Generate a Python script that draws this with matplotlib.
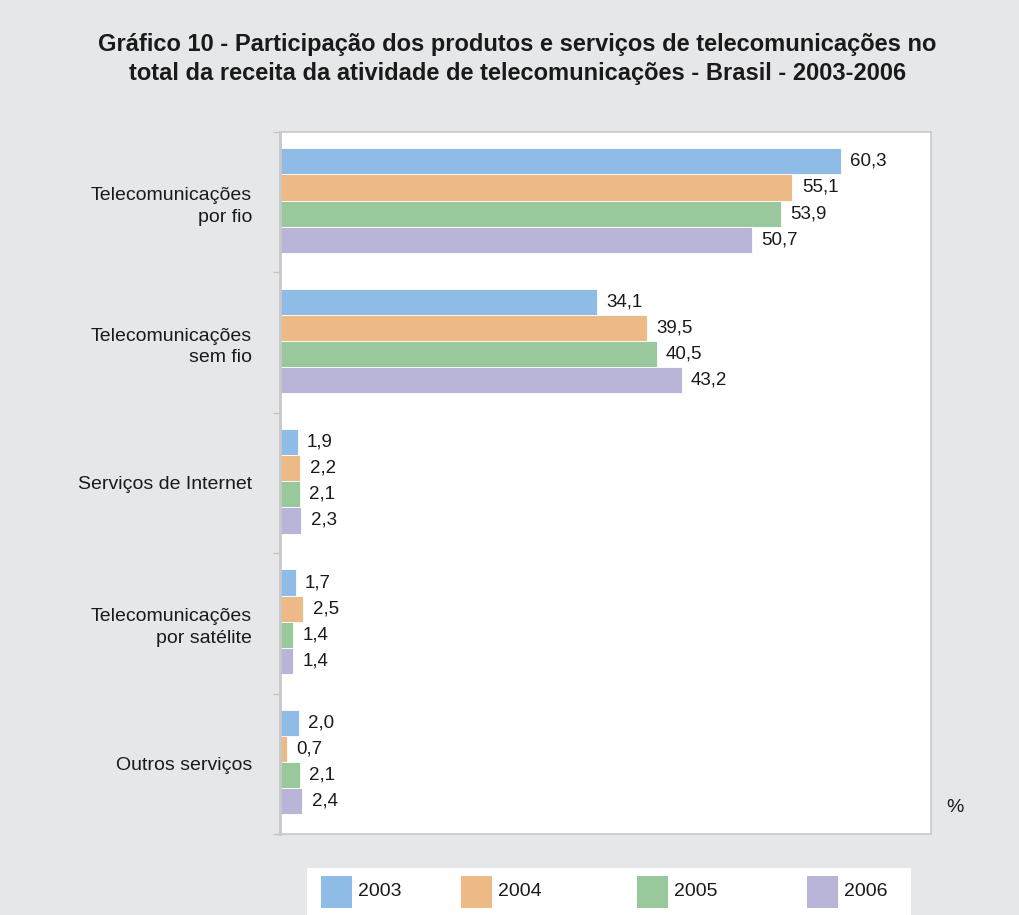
import matplotlib
matplotlib.use("Agg")
import matplotlib.pyplot as plt
from matplotlib.patches import Rectangle
import numpy as np

plt.rcParams['font.family'] = ['Liberation Sans', 'DejaVu Sans']

categories = ["Telecomunicações\npor fio", "Telecomunicações\nsem fio", "Serviços de Internet",
              "Telecomunicações\npor satélite", "Outros serviços"]
years = ["2003", "2004", "2005", "2006"]
v2003 = [60.3, 34.1, 1.9, 1.7, 2.0]
v2004 = [55.1, 39.5, 2.2, 2.5, 0.7]
v2005 = [53.9, 40.5, 2.1, 1.4, 2.1]
v2006 = [50.7, 43.2, 2.3, 1.4, 2.4]
series = [v2003, v2004, v2005, v2006]
colors = ["#8fbce6", "#ecb987", "#99c89d", "#b9b5d9"]

bg = "#e6e7e9"
fig = plt.figure(figsize=(10.19, 9.15), dpi=100, facecolor=bg)
ax = fig.add_axes([280/1019, 1-834/915, 651/1019, (834-132)/915])
ax.set_facecolor("white")

y = np.arange(len(categories))
h = 0.186
for i, (vals, c) in enumerate(zip(series, colors)):
    pos = y + (i - 1.5) * h - 0.012
    ax.barh(pos, vals, height=h, color=c, edgecolor="white", linewidth=0.6)
    for p, v in zip(pos, vals):
        ax.text(v + 1.0, p, f"{v:.1f}".replace(".", ","), va="center", ha="left",
                fontsize=13.5, color="#1a1a1a")

ax.set_xlim(0, 70)
ax.set_ylim(len(categories) - 0.5, -0.5)
ax.set_yticks(y)
ax.set_yticklabels(categories, fontsize=14, ha="right", color="#1a1a1a", linespacing=1.35)
ax.set_yticks(np.arange(-0.5, len(categories)), minor=True)
ax.tick_params(axis="y", which="major", length=0, pad=20)
ax.tick_params(axis="y", which="minor", length=5, color="#c4c4c4", width=1)
ax.set_xticks([])
for s in ax.spines.values():
    s.set_color("#c8c8c8")
    s.set_linewidth(1.2)
ax.spines["left"].set_linewidth(2)

fig.text(0.508, 1-59/915, "Gráfico 10 - Participação dos produtos e serviços de telecomunicações no\n"
         "total da receita da atividade de telecomunicações - Brasil - 2003-2006",
         ha="center", va="center", fontsize=17, fontweight="bold", color="#1a1a1a",
         linespacing=1.3)
fig.text(955/1019, 1-808/915, "%", ha="center", va="center", fontsize=14, color="#1a1a1a")

# legend box
W, H = 1019, 915
fig.add_artist(Rectangle((307/W, 0), (911-307)/W, (915-868)/H, transform=fig.transFigure,
                         facecolor="white", edgecolor="none"))
sq_x = [321, 461, 637, 807]
for sx, c, lab in zip(sq_x, colors, years):
    fig.add_artist(Rectangle((sx/W, 1-908/H), 31/W, 32/H, transform=fig.transFigure,
                             facecolor=c, edgecolor="none"))
    fig.text((sx+37)/W, 1-892/H, lab, ha="left", va="center", fontsize=14, color="#1a1a1a")

fig.savefig("out.png", dpi=100, facecolor=bg)
